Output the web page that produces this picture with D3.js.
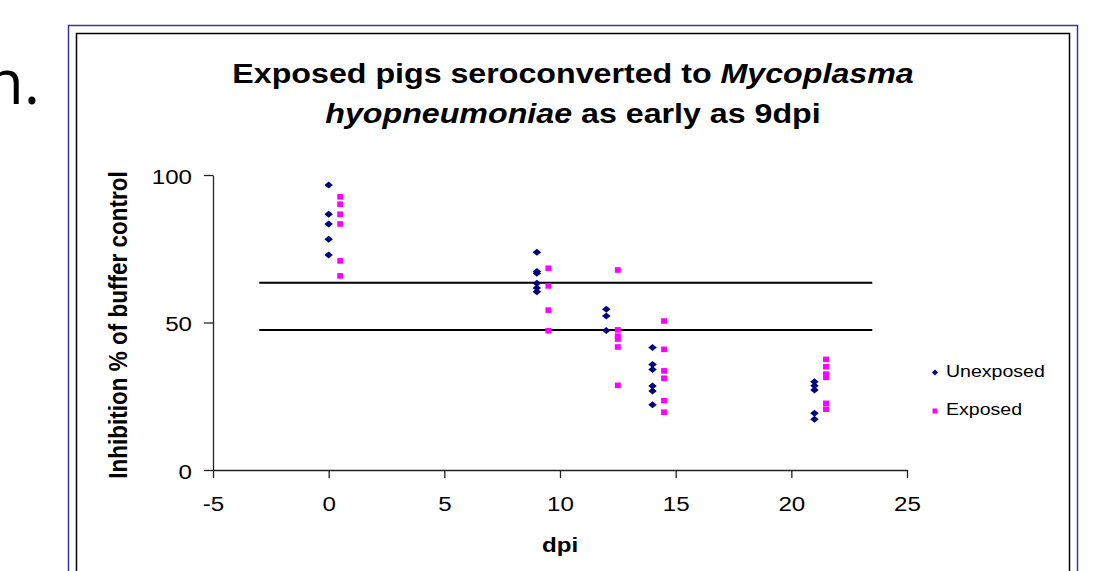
<!DOCTYPE html>
<html><head><meta charset="utf-8">
<script src="https://cdn.jsdelivr.net/npm/d3@7"></script>
<style>body{margin:0;background:#fff;overflow:hidden} svg{display:block}</style>
</head><body>
<script>
// ---- data ----
const titleLine1 = ["Exposed pigs seroconverted to ", "Mycoplasma"];
const titleLine2 = ["hyopneumoniae", " as early as 9dpi"];
const xLabel = "dpi";
const yLabel = "Inhibition % of buffer control";
const xTicks = [-5, 0, 5, 10, 15, 20, 25];
const yTicks = [0, 50, 100];
const seriesNames = ["Unexposed", "Exposed"];
const unexposedDpi = [0,0,0,0,0, 9,9,9,9,9,9, 12,12,12, 14,14,14,14,14,14, 21,21,21,21,21];
const unexposedVal = [96.6,86.7,83.4,78.2,72.9, 73.8,67.3,66.7,63.3,61.7,60.4, 54.5,52.2,47.3, 41.5,35.8,34.1,28.5,26.8,22.1, 29.9,28.6,27.1,19.2,17.2];
const exposedDpi = [0.5,0.5,0.5,0.5,0.5,0.5, 9.5,9.5,9.5,9.5, 12.5,12.5,12.5,12.5,12.5,12.5, 14.5,14.5,14.5,14.5,14.5,14.5, 21.5,21.5,21.5,21.5,21.5,21.5];
const exposedVal = [92.6,90.1,86.7,83.4,70.9,65.8, 68.4,62.4,54.2,47.2, 67.8,47.5,45.4,44.4,41.7,28.7, 50.5,40.9,33.6,31.1,23.5,19.6, 37.5,35.0,32.5,31.4,22.6,20.6];
const cutoffValues = [63.5, 47.5];
const cutoffRange = [-3, 23.5];

// ---- layout ----
const W = 1105, H = 571, SX = 1.15;
const svg = d3.select("body").append("svg").attr("width", W).attr("height", H);
const FONT = "'Liberation Sans', Arial, sans-serif";
const fmt = d => String(d); // plain hyphen-minus like the original

// slide fragment text
svg.append("text").attr("x", 40).attr("y", 104).attr("text-anchor", "end")
  .attr("font-family", "'Open Sans', sans-serif").attr("font-size", 62).attr("fill", "#000").text("n.");

// borders
svg.append("rect").attr("x", 68.5).attr("y", 25.5).attr("width", 1009).attr("height", 600)
  .attr("fill", "none").attr("stroke", "#3636a8").attr("stroke-width", 1.5);
svg.append("rect").attr("x", 76.5).attr("y", 33.5).attr("width", 993).attr("height", 600)
  .attr("fill", "none").attr("stroke", "#000").attr("stroke-width", 1.5);

const x = d3.scaleLinear().domain([-5, 25]).range([213, 907]);
const y = d3.scaleLinear().domain([0, 100]).range([470, 175]);

function stretchText(sel, tx, ty) {
  sel.attr("transform", `translate(${tx},${ty}) scale(${SX},1)`);
}
// title
const t1 = svg.append("text").attr("text-anchor", "middle").attr("font-family", FONT)
  .attr("font-weight", "bold").attr("font-size", 28).attr("fill", "#000");
t1.append("tspan").text(titleLine1[0]);
t1.append("tspan").attr("font-style", "italic").text(titleLine1[1]);
stretchText(t1, 573, 83);
const t2 = svg.append("text").attr("text-anchor", "middle").attr("font-family", FONT)
  .attr("font-weight", "bold").attr("font-size", 28).attr("fill", "#000");
t2.append("tspan").attr("font-style", "italic").text(titleLine2[0]);
t2.append("tspan").text(titleLine2[1]);
stretchText(t2, 573, 123);

// axes
const gx = svg.append("g").attr("transform", `translate(0,${y(0)})`)
  .call(d3.axisBottom(x).tickValues(xTicks).tickSize(8).tickSizeOuter(0).tickFormat(fmt));
const gy = svg.append("g").attr("transform", `translate(${x(-5)},0)`)
  .call(d3.axisLeft(y).tickValues(yTicks).tickSize(9).tickSizeOuter(0).tickFormat(fmt));
[gx, gy].forEach(g => {
  g.selectAll("path.domain").attr("stroke", "#222").attr("stroke-width", 1.3);
  g.selectAll(".tick line").attr("stroke", "#222").attr("stroke-width", 1.3);
  g.selectAll(".tick text").attr("font-family", FONT).attr("font-size", 21).attr("fill", "#000");
});
gx.selectAll(".tick text").attr("y", 0).attr("dy", 0)
  .attr("transform", `translate(0,41) scale(${SX},1)`);
gy.selectAll(".tick text").attr("x", 0).attr("dy", "0.35em")
  .attr("transform", `translate(-21,1) scale(${SX},1)`);

// axis titles
const xt = svg.append("text").attr("text-anchor", "middle").attr("font-family", FONT)
  .attr("font-weight", "bold").attr("font-size", 21).text(xLabel);
stretchText(xt, 560, 552);
svg.append("text").attr("text-anchor", "middle").attr("font-family", FONT)
  .attr("font-weight", "bold").attr("font-size", 22.5).text(yLabel)
  .attr("transform", `translate(127,325) scale(${SX},1) rotate(-90)`);

// cutoff lines
svg.selectAll("line.cut").data(cutoffValues).join("line").attr("class", "cut")
  .attr("x1", x(cutoffRange[0])).attr("x2", x(cutoffRange[1]))
  .attr("y1", d => y(d)).attr("y2", d => y(d))
  .attr("stroke", "#000").attr("stroke-width", 2);

// points
const diamond = (cx, cy, w, h) => `M${cx},${cy - h/2}L${cx + w/2},${cy}L${cx},${cy + h/2}L${cx - w/2},${cy}Z`;
const unexposed = unexposedDpi.map((d, i) => ({dpi: d, v: unexposedVal[i]}));
const exposed = exposedDpi.map((d, i) => ({dpi: d, v: exposedVal[i]}));
svg.selectAll("path.unexp").data(unexposed).join("path").attr("class", "unexp")
  .attr("d", d => diamond(x(d.dpi), y(d.v), 8.5, 7)).attr("fill", "#000080");
svg.selectAll("rect.exp").data(exposed).join("rect").attr("class", "exp")
  .attr("x", d => x(d.dpi) - 3).attr("y", d => y(d.v) - 2.8)
  .attr("width", 6).attr("height", 5.6).attr("fill", "#ff00ff");

// legend
const lg = svg.append("g");
lg.append("path").attr("d", diamond(935, 372.5, 6, 6)).attr("fill", "#000080");
lg.append("rect").attr("x", 932.5).attr("y", 408.5).attr("width", 5).attr("height", 5).attr("fill", "#ff00ff");
const l1 = lg.append("text").attr("font-family", FONT).attr("font-size", 17).text(seriesNames[0]);
stretchText(l1, 946, 377);
const l2 = lg.append("text").attr("font-family", FONT).attr("font-size", 17).text(seriesNames[1]);
stretchText(l2, 946, 415);
</script>
</body></html>
